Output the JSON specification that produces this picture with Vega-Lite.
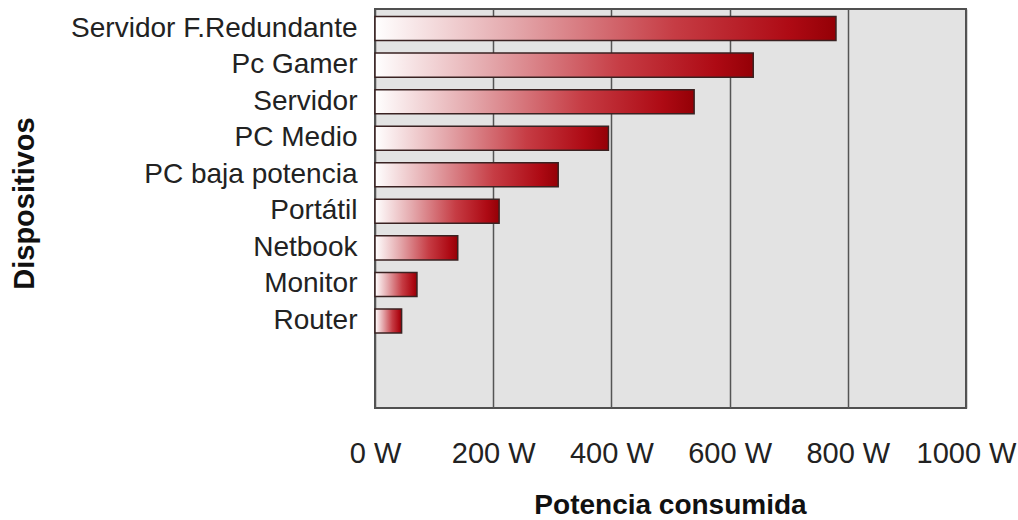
{
  "$schema": "https://vega.github.io/schema/vega-lite/v6.json",
  "autosize": {"type": "none"},
  "padding": {"left": 375, "top": 9, "right": 52, "bottom": 112},
  "width": 591,
  "height": 399,
  "background": "#ffffff",
  "config": {
    "font": "Liberation Sans",
    "view": {"fill": "#e3e3e3", "stroke": "#505050", "strokeWidth": 2}
  },
  "data": {
    "values": [
      {"dispositivo": "Servidor F.Redundante", "potencia": 780},
      {"dispositivo": "Pc Gamer", "potencia": 640},
      {"dispositivo": "Servidor", "potencia": 540},
      {"dispositivo": "PC Medio", "potencia": 395},
      {"dispositivo": "PC baja potencia", "potencia": 310},
      {"dispositivo": "Portátil", "potencia": 210},
      {"dispositivo": "Netbook", "potencia": 140},
      {"dispositivo": "Monitor", "potencia": 71},
      {"dispositivo": "Router", "potencia": 45}
    ]
  },
  "mark": {
    "type": "bar",
    "stroke": "#3a2222",
    "strokeWidth": 1.5,
    "fill": {
      "gradient": "linear",
      "x1": 0, "y1": 0, "x2": 1, "y2": 0,
      "stops": [
        {"offset": 0, "color": "#ffffff"},
        {"offset": 0.3, "color": "#e4a8ac"},
        {"offset": 0.65, "color": "#c63c44"},
        {"offset": 0.9, "color": "#ae0a14"},
        {"offset": 1, "color": "#940006"}
      ]
    }
  },
  "encoding": {
    "y": {
      "field": "dispositivo",
      "type": "nominal",
      "sort": null,
      "scale": {
        "domain": ["Servidor F.Redundante", "Pc Gamer", "Servidor", "PC Medio", "PC baja potencia", "Portátil", "Netbook", "Monitor", "Router", " ", "  "],
        "paddingInner": 0.342,
        "paddingOuter": 0.129,
        "align": 0.8
      },
      "axis": {
        "title": "Dispositivos",
        "titleFontSize": 29,
        "titleFontWeight": "bold",
        "titleColor": "#111111",
        "titleAngle": -90,
        "titleBaseline": "alphabetic",
        "titleAlign": "center",
        "titleX": -342,
        "titleY": 194,
        "labelExpr": "datum.label == 'Portátil' || datum.label == 'Netbook' ? datum.label + '\u00a0' : datum.label",
        "labelFontSize": 28,
        "labelColor": "#222222",
        "labelPadding": 18,
        "labelLimit": 400,
        "ticks": false,
        "domain": false,
        "grid": false
      }
    },
    "x": {
      "field": "potencia",
      "type": "quantitative",
      "scale": {"domain": [0, 1000], "nice": false},
      "axis": {
        "title": "Potencia consumida",
        "titleFontSize": 28,
        "titleFontWeight": "bold",
        "titleColor": "#111111",
        "titleBaseline": "alphabetic",
        "titleAlign": "center",
        "titleX": 295,
        "titleY": 105,
        "values": [0, 200, 400, 600, 800, 1000],
        "labelExpr": "datum.value + ' W'",
        "labelFontSize": 29,
        "labelColor": "#222222",
        "labelBaseline": "alphabetic",
        "labelPadding": 54,
        "labelFlush": false,
        "labelOverlap": false,
        "labelBound": false,
        "ticks": false,
        "domain": false,
        "grid": true,
        "gridColor": "#555555",
        "gridWidth": 1.5,
        "gridOpacity": 1
      }
    }
  }
}
